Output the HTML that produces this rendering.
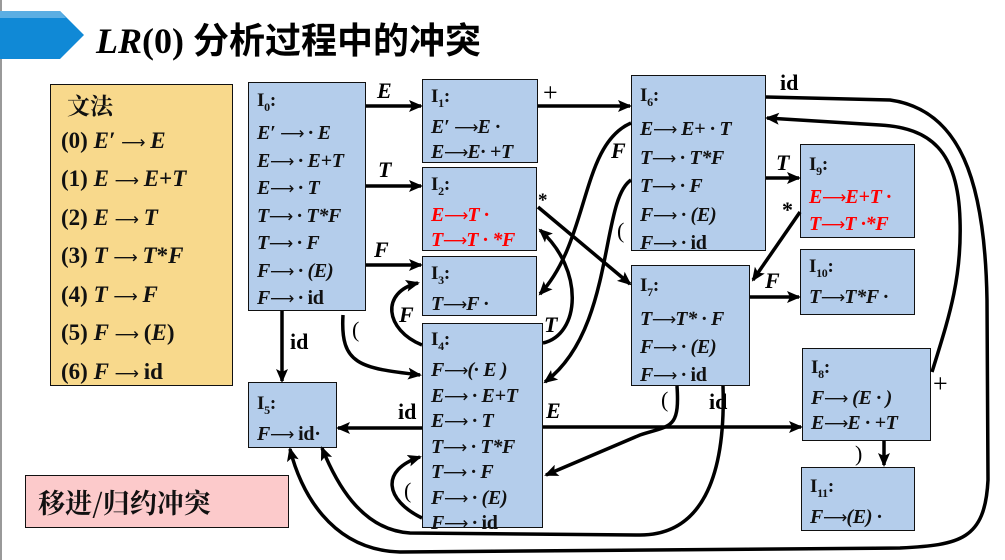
<!DOCTYPE html>
<html><head><meta charset="utf-8"><style>
body{margin:0;width:1005px;height:560px;background:#fff;position:relative;overflow:hidden;font-family:"Liberation Serif","Noto Serif CJK SC",serif;}
.b{position:absolute;background:#b4cdeb;border:1.5px solid #111;box-sizing:border-box;font-weight:bold;font-style:italic;font-size:20px;color:#111;line-height:27px;padding:4px 0 0 8px;white-space:nowrap;letter-spacing:-0.3px}
.b .h{font-style:normal;font-size:19px;}
.b sub{font-size:12px;}
.r{color:#f00;}
.n{font-style:normal;}
.ar{font-family:"DejaVu Sans",sans-serif;font-style:normal;font-weight:normal;font-size:17px;letter-spacing:-1px}
svg{position:absolute;left:0;top:0;}
</style></head><body>
<div style="position:absolute;left:0;top:0;width:2px;height:560px;background:#999"></div>
<svg width="1005" height="560">
<polygon points="0,11 60,11 84,35 60,59 0,59" fill="#1089d6"/>
<polygon points="0,11 60,11 66,18 0,18" fill="#5baee3"/>
</svg>
<div style="position:absolute;left:96px;top:12px;font-size:36px;font-weight:bold;font-family:'Liberation Serif','Noto Sans CJK SC',sans-serif;color:#000;white-space:nowrap"><i>LR</i>(0) <span style="font-family:'Noto Sans CJK SC',sans-serif">分析过程中的冲突</span></div>

<div style="position:absolute;left:50px;top:84px;width:183px;height:302px;background:#f8d98c;border:1.5px solid #111;box-sizing:border-box;font-weight:bold;font-size:23px;line-height:35.5px;padding:2px 0 0 10px;white-space:nowrap;color:#111">
<div style="padding-left:6px;font-family:'Noto Serif CJK SC',serif;font-weight:bold">文法</div>
<div>(0) <i>E′</i> <span class="ar">⟶</span> <i>E</i></div>
<div>(1) <i>E</i> <span class="ar">⟶</span> <i>E</i>+<i>T</i></div>
<div>(2) <i>E</i> <span class="ar">⟶</span> <i>T</i></div>
<div>(3) <i>T</i> <span class="ar">⟶</span> <i>T</i>*<i>F</i></div>
<div>(4) <i>T</i> <span class="ar">⟶</span> <i>F</i></div>
<div>(5) <i>F</i> <span class="ar">⟶</span> (<i>E</i>)</div>
<div>(6) <i>F</i> <span class="ar">⟶</span> id</div>
</div>
<div style="position:absolute;left:25px;top:475px;width:264px;height:53px;background:#fccacb;border:1.5px solid #111;box-sizing:border-box;font-size:27px;font-weight:bold;padding:6px 0 0 12px;font-family:'Noto Serif CJK SC',serif;color:#111">移进/归约冲突</div>

<div class="b" style="left:248px;top:82px;width:118px;height:229px;line-height:26.5px"><span class="h">I<sub>0</sub>:</span><br><i>E′</i> <span class="ar">⟶</span> · <i>E</i><br><i>E</i><span class="ar">⟶</span> · <i>E</i>+<i>T</i><br><i>E</i><span class="ar">⟶</span> · <i>T</i><br><i>T</i><span class="ar">⟶</span> · <i>T</i>*<i>F</i><br><i>T</i><span class="ar">⟶</span> · <i>F</i><br><i>F</i><span class="ar">⟶</span> · (<i>E</i>)<br><i>F</i><span class="ar">⟶</span> · <span class="n">id</span></div>
<div class="b" style="left:422px;top:79px;width:116px;height:84px;line-height:24px"><span class="h">I<sub>1</sub>:</span><br><i>E′</i> <span class="ar">⟶</span><i>E</i> ·<br><i>E</i><span class="ar">⟶</span><i>E</i>· +<i>T</i></div>
<div class="b" style="left:422px;top:167px;width:115px;height:84px;line-height:24px"><span class="h">I<sub>2</sub>:</span><br><span class="r"><i>E</i><span class="ar">⟶</span><i>T</i> ·</span><br><span class="r"><i>T</i><span class="ar">⟶</span><i>T</i> · *<i>F</i></span></div>
<div class="b" style="left:422px;top:256px;width:115px;height:60px;line-height:24px"><span class="h">I<sub>3</sub>:</span><br><i>T</i><span class="ar">⟶</span><i>F</i> ·</div>
<div class="b" style="left:422px;top:323px;width:121px;height:205px;line-height:24.5px;padding-top:3px"><span class="h">I<sub>4</sub>:</span><br><i>F</i><span class="ar">⟶</span>(· <i>E</i> )<br><i>E</i><span class="ar">⟶</span> · <i>E</i>+<i>T</i><br><i>E</i><span class="ar">⟶</span> · <i>T</i><br><i>T</i><span class="ar">⟶</span> · <i>T</i>*<i>F</i><br><i>T</i><span class="ar">⟶</span> · <i>F</i><br><i>F</i><span class="ar">⟶</span> · (<i>E</i>)<br><i>F</i><span class="ar">⟶</span> · <span class="n">id</span></div>
<div class="b" style="left:248px;top:382px;width:89px;height:66px;line-height:24px;padding-top:8px"><span class="h">I<sub>5</sub>:</span><br><i>F</i><span class="ar">⟶</span> <span class="n">id·</span></div>
<div class="b" style="left:631px;top:75px;width:135px;height:176px;line-height:27.5px;padding-top:6px"><span class="h">I<sub>6</sub>:</span><br><i>E</i><span class="ar">⟶</span> <i>E</i>+ · <i>T</i><br><i>T</i><span class="ar">⟶</span> · <i>T</i>*<i>F</i><br><i>T</i><span class="ar">⟶</span> · <i>F</i><br><i>F</i><span class="ar">⟶</span> · (<i>E</i>)<br><i>F</i><span class="ar">⟶</span> · <span class="n">id</span></div>
<div class="b" style="left:631px;top:265px;width:119px;height:121px;line-height:27px;padding-top:6px"><span class="h">I<sub>7</sub>:</span><br><i>T</i><span class="ar">⟶</span><i>T</i>* · <i>F</i><br><i>F</i><span class="ar">⟶</span> · (<i>E</i>)<br><i>F</i><span class="ar">⟶</span> · <span class="n">id</span></div>
<div class="b" style="left:800px;top:144px;width:115px;height:94px;line-height:26px;padding-top:6px"><span class="h">I<sub>9</sub>:</span><br><span class="r"><i>E</i><span class="ar">⟶</span><i>E</i>+<i>T</i> ·</span><br><span class="r"><i>T</i><span class="ar">⟶</span><i>T</i> ·*<i>F</i></span></div>
<div class="b" style="left:800px;top:249px;width:115px;height:66px;line-height:24px"><span class="h">I<sub>10</sub>:</span><br><i>T</i><span class="ar">⟶</span><i>T</i>*<i>F</i> ·</div>
<div class="b" style="left:802px;top:348px;width:129px;height:93px;line-height:24px;padding-top:6px"><span class="h">I<sub>8</sub>:</span><br><i>F</i><span class="ar">⟶</span> (<i>E</i> · )<br><i>E</i><span class="ar">⟶</span><i>E</i> · +<i>T</i></div>
<div class="b" style="left:801px;top:467px;width:114px;height:64px;line-height:24px;padding-top:6px"><span class="h">I<sub>11</sub>:</span><br><i>F</i><span class="ar">⟶</span>(<i>E</i>) ·</div>

<svg width="1005" height="560" style="pointer-events:none">
<defs><marker id="m" markerWidth="14" markerHeight="14" refX="12" refY="7" orient="auto" markerUnits="userSpaceOnUse"><path d="M0,1 L14,7 L0,13 L3,7 z" fill="#000"/></marker></defs>
<g fill="none" stroke="#000" stroke-width="3.5" marker-end="url(#m)">
<path d="M366,106 L421,106"/>
<path d="M366,186 L421,186"/>
<path d="M366,265 L421,265"/>
<path d="M282,311 L282,381"/>
<path d="M343,315 C340,365 360,368 420,375"/>
<path d="M538,106 L630,106"/>
<path d="M538,207 L630,284"/>
<path d="M543,343 C580,335 585,270 540,230"/>
<path d="M422,345 C385,330 380,292 418,283"/>
<path d="M422,518 C385,500 380,470 420,457"/>
<path d="M422,428 L338,428"/>
<path d="M543,427 L801,427"/>
<path d="M631,123 C580,145 590,240 540,294"/>
<path d="M631,180 C600,200 615,330 545,382"/>
<path d="M766,178 L799,178"/>
<path d="M800,212 L753,280"/>
<path d="M750,297 L799,297"/>
<path d="M677,386 C680,430 670,425 640,435 L546,475"/>
<path d="M723,386 C726,480 700,535 640,535 L410,533 C360,530 335,480 322,448"/>
<path d="M766,97 L890,100 C960,110 985,180 987,300 L988,480 C985,540 960,545 900,548 L400,552 C330,550 300,490 290,449"/>
<path d="M932,372 C948,320 962,280 960,220 C958,150 930,128 880,125 L767,118"/>
<path d="M884,441 L884,465"/>
</g>
<g font-family="Liberation Serif" font-weight="bold" font-size="22" fill="#000">
<text x="377" y="98" font-style="italic">E</text>
<text x="378" y="177" font-style="italic">T</text>
<text x="374" y="257" font-style="italic">F</text>
<text x="290" y="349">id</text>
<text x="352" y="337" font-weight="normal">(</text>
<text x="543" y="101" font-weight="normal" font-size="26">+</text>
<text x="538" y="206" font-size="19">*</text>
<text x="544" y="332" font-style="italic">T</text>
<text x="399" y="322" font-style="italic">F</text>
<text x="404" y="498" font-weight="normal">(</text>
<text x="398" y="419">id</text>
<text x="546" y="418" font-style="italic">E</text>
<text x="611" y="158" font-style="italic">F</text>
<text x="617" y="238" font-weight="normal">(</text>
<text x="776" y="170" font-style="italic">T</text>
<text x="782" y="217">*</text>
<text x="765" y="288" font-style="italic">F</text>
<text x="661" y="407" font-weight="normal">(</text>
<text x="709" y="409">id</text>
<text x="780" y="90">id</text>
<text x="933" y="392" font-weight="normal" font-size="26">+</text>
<text x="855" y="461" font-weight="normal">)</text>
</g>
</svg>
</body></html>
